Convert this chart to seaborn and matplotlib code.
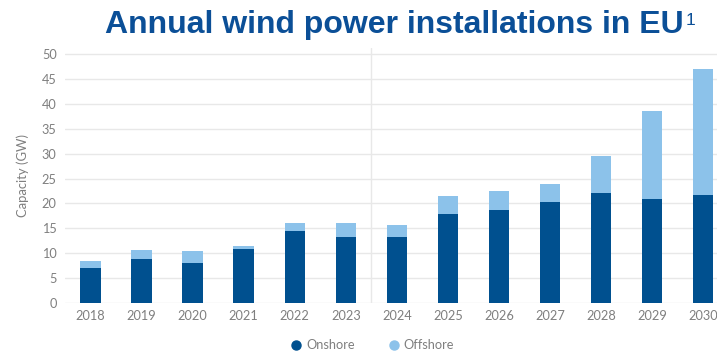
import matplotlib
matplotlib.use("Agg")
import matplotlib.pyplot as plt
from matplotlib.lines import Line2D
import seaborn as sns
import pandas as pd

years = ["2018", "2019", "2020", "2021", "2022", "2023", "2024",
         "2025", "2026", "2027", "2028", "2029", "2030"]
onshore = [7.0, 8.9, 8.1, 10.9, 14.5, 13.2, 13.3, 17.8, 18.6, 20.2, 22.2, 21.0, 21.8]
offshore = [1.5, 1.8, 2.4, 0.5, 1.5, 2.9, 2.3, 3.7, 3.9, 3.8, 7.3, 17.6, 25.2]

ONSHORE_C = "#00508f"
OFFSHORE_C = "#8cc2ea"
GREY = "#7f7f7f"
TITLE_C = "#0b4f97"

df = pd.DataFrame({"year": years, "onshore": onshore, "offshore": offshore})
df["total"] = df["onshore"] + df["offshore"]

sns.set_theme(style="white")
plt.rcParams["font.family"] = ["Lato", "DejaVu Sans"]

fig = plt.figure(figsize=(7.17, 3.52), dpi=100)
ax = fig.add_axes([65 / 717, 48.7 / 352, 1 - 65 / 717, (304.2 - 48.7) / 352])

# stacked bars: full height in offshore colour, onshore drawn on top
sns.barplot(data=df, x="year", y="total", color=OFFSHORE_C, width=0.4,
            saturation=1, linewidth=0, ax=ax, zorder=3)
sns.barplot(data=df, x="year", y="onshore", color=ONSHORE_C, width=0.4,
            saturation=1, linewidth=0, ax=ax, zorder=4)

ax.set_xlim(-0.5, 12.27)
ax.set_ylim(0, 51.2)
ax.set_yticks(range(0, 51, 5))
ax.yaxis.grid(True, color="#e8e8e8", linewidth=1.0, zorder=0)
ax.set_axisbelow(True)
for s in ax.spines.values():
    s.set_visible(False)

# separator between historical and outlook years
ax.axvline(5.5, color="#e8e8e8", linewidth=1.0, zorder=1)

ax.tick_params(axis="both", length=0, labelsize=9.2, labelcolor=GREY)
ax.tick_params(axis="y", pad=6)
ax.tick_params(axis="x", pad=5)
ax.set_xlabel("")
ax.set_ylabel("Capacity (GW)", fontsize=9.4, color=GREY, labelpad=9)

handles = [
    Line2D([], [], marker="o", linestyle="", markersize=6.5,
           markerfacecolor=ONSHORE_C, markeredgecolor=ONSHORE_C, label="Onshore"),
    Line2D([], [], marker="o", linestyle="", markersize=6.5,
           markerfacecolor=OFFSHORE_C, markeredgecolor=OFFSHORE_C, label="Offshore"),
]
fig.legend(handles=handles, loc="center", bbox_to_anchor=(372 / 717, 1 - 345 / 352),
           ncol=2, frameon=False, fontsize=9.2, labelcolor=GREY,
           handletextpad=0.25, columnspacing=2.6, handlelength=1.0)

title = fig.text(105 / 717, 1 - 32.5 / 352, "Annual wind power installations in EU",
                 fontsize=23.0, fontweight="bold", color=TITLE_C,
                 family=["Liberation Sans", "DejaVu Sans"], ha="left", va="baseline")

# footnote marker placed just after the title's right edge
fig.canvas.draw()
bb = title.get_window_extent(renderer=fig.canvas.get_renderer())
fig.text((bb.x1 + 2) / fig.bbox.width, 1 - 25 / 352, "1", fontsize=12.5,
         color=TITLE_C, family=["Liberation Sans", "DejaVu Sans"],
         ha="left", va="baseline")

fig.savefig("out.png", dpi=100)
